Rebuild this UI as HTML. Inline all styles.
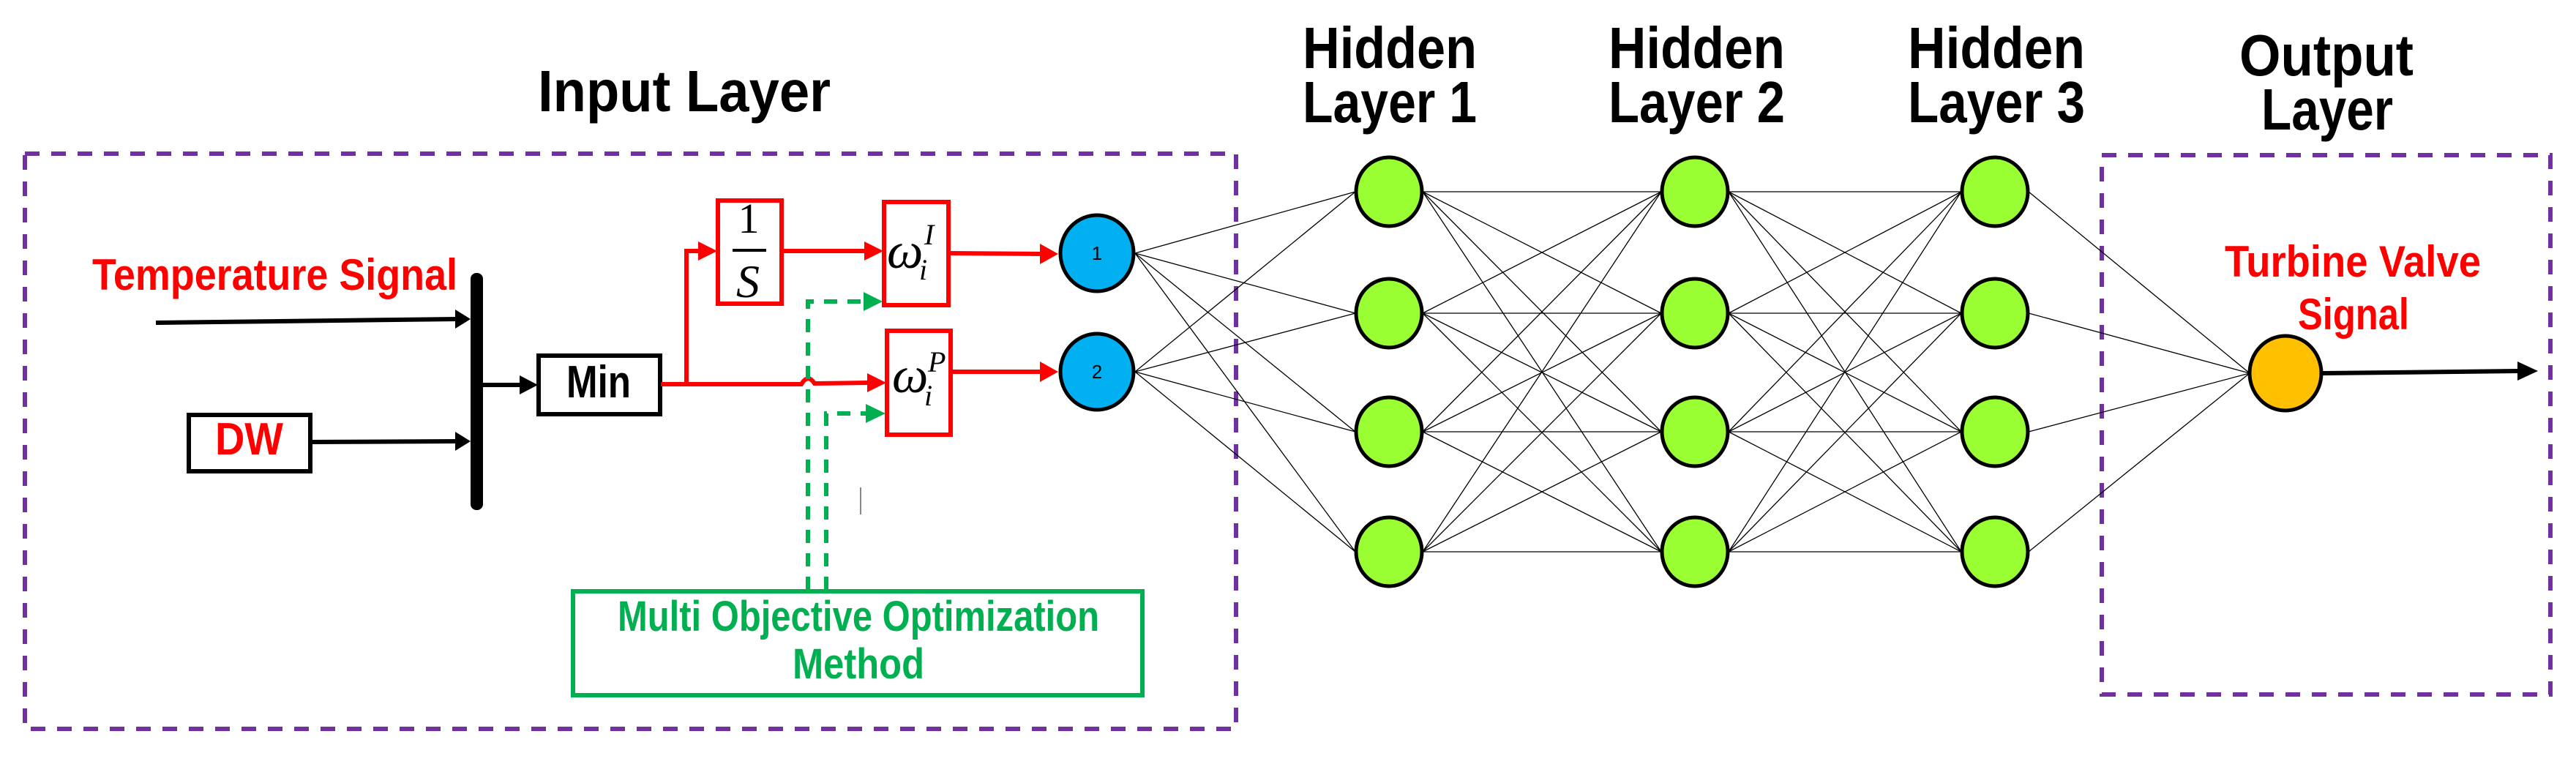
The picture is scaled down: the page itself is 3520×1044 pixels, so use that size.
<!DOCTYPE html>
<html><head><meta charset="utf-8"><style>html,body{margin:0;padding:0;background:#fff}svg{display:block}</style></head>
<body>
<svg width="3520" height="1044" viewBox="0 0 3520 1044" xmlns="http://www.w3.org/2000/svg">
<g font-family="Liberation Sans, sans-serif" font-weight="bold">
<text x="735" y="152" font-size="80" textLength="400" lengthAdjust="spacingAndGlyphs">Input  Layer</text>
<text x="1780" y="93" font-size="80" textLength="238" lengthAdjust="spacingAndGlyphs">Hidden</text>
<text x="1780" y="167" font-size="80" textLength="238" lengthAdjust="spacingAndGlyphs">Layer 1</text>
<text x="2198" y="93" font-size="80" textLength="241" lengthAdjust="spacingAndGlyphs">Hidden</text>
<text x="2198" y="167" font-size="80" textLength="241" lengthAdjust="spacingAndGlyphs">Layer 2</text>
<text x="2607" y="93" font-size="80" textLength="242" lengthAdjust="spacingAndGlyphs">Hidden</text>
<text x="2607" y="167" font-size="80" textLength="242" lengthAdjust="spacingAndGlyphs">Layer 3</text>
<text x="3060" y="103" font-size="80" textLength="238" lengthAdjust="spacingAndGlyphs">Output</text>
<text x="3090" y="177" font-size="80" textLength="180" lengthAdjust="spacingAndGlyphs">Layer</text>
<text x="126" y="396" font-size="60" fill="#f00" textLength="499" lengthAdjust="spacingAndGlyphs">Temperature Signal</text>
<text x="294" y="621" font-size="62" fill="#f00" textLength="93" lengthAdjust="spacingAndGlyphs">DW</text>
<text x="774" y="543" font-size="62" textLength="88" lengthAdjust="spacingAndGlyphs">Min</text>
<text x="3040" y="378" font-size="60" fill="#f00" textLength="350" lengthAdjust="spacingAndGlyphs">Turbine Valve</text>
<text x="3140" y="450" font-size="60" fill="#f00" textLength="152" lengthAdjust="spacingAndGlyphs">Signal</text>
<text x="844" y="862" font-size="58" fill="#00b050" textLength="658" lengthAdjust="spacingAndGlyphs">Multi Objective Optimization</text>
<text x="1083" y="927" font-size="58" fill="#00b050" textLength="180" lengthAdjust="spacingAndGlyphs">Method</text>
</g>
<rect x="34" y="210" width="1655" height="786" fill="none" stroke="#7030a0" stroke-width="6" stroke-dasharray="20,16"/>
<rect x="2872" y="212" width="613" height="737" fill="none" stroke="#7030a0" stroke-width="6" stroke-dasharray="20,16"/>
<g stroke="#000" stroke-width="1.3" fill="none">
<path d="M1551,346L1852,262M1551,346L1852,428M1551,346L1852,590M1551,346L1852,754
M1551,508L1852,262M1551,508L1852,428M1551,508L1852,590M1551,508L1852,754
M1944,262L2270,262M1944,262L2270,428M1944,262L2270,590M1944,262L2270,754
M1944,428L2270,262M1944,428L2270,428M1944,428L2270,590M1944,428L2270,754
M1944,590L2270,262M1944,590L2270,428M1944,590L2270,590M1944,590L2270,754
M1944,754L2270,262M1944,754L2270,428M1944,754L2270,590M1944,754L2270,754
M2362,262L2680,262M2362,262L2680,428M2362,262L2680,590M2362,262L2680,754
M2362,428L2680,262M2362,428L2680,428M2362,428L2680,590M2362,428L2680,754
M2362,590L2680,262M2362,590L2680,428M2362,590L2680,590M2362,590L2680,754
M2362,754L2680,262M2362,754L2680,428M2362,754L2680,590M2362,754L2680,754
M2772,262L3074,510M2772,428L3074,510M2772,590L3074,510M2772,754L3074,510"/>
</g>
<g stroke="#000" stroke-width="5">
<ellipse cx="1499" cy="346" rx="50" ry="52" fill="#00b0f0"/>
<ellipse cx="1499" cy="508" rx="50" ry="52" fill="#00b0f0"/>
<g fill="#99ff33">
<ellipse cx="1898" cy="262" rx="45" ry="47"/><ellipse cx="1898" cy="428" rx="45" ry="47"/><ellipse cx="1898" cy="590" rx="45" ry="47"/><ellipse cx="1898" cy="754" rx="45" ry="47"/>
<ellipse cx="2316" cy="262" rx="45" ry="47"/><ellipse cx="2316" cy="428" rx="45" ry="47"/><ellipse cx="2316" cy="590" rx="45" ry="47"/><ellipse cx="2316" cy="754" rx="45" ry="47"/>
<ellipse cx="2726" cy="262" rx="45" ry="47"/><ellipse cx="2726" cy="428" rx="45" ry="47"/><ellipse cx="2726" cy="590" rx="45" ry="47"/><ellipse cx="2726" cy="754" rx="45" ry="47"/>
</g>
<ellipse cx="3123" cy="510" rx="49" ry="51" fill="#ffc000"/>
</g>
<g font-family="Liberation Sans, sans-serif" font-size="26" text-anchor="middle"><text x="1499" y="355">1</text><text x="1499" y="517">2</text></g>
<path d="M3173,510 L3445,507" stroke="#000" stroke-width="6"/>
<path d="M3440,494 L3468,507 L3440,520z" fill="#000"/>
<rect x="643" y="373" width="17" height="324" rx="8" fill="#000"/>
<path d="M213,441 L625,436 M424,604 L625,603 M660,526 L712,526" stroke="#000" stroke-width="6"/>
<path d="M622,423 L643,436 L622,449z M622,590 L643,603 L622,616z M710,513 L735,526 L710,539z" fill="#000"/>
<rect x="258" y="567" width="166" height="77" fill="none" stroke="#000" stroke-width="6"/>
<rect x="736" y="486" width="166" height="80" fill="none" stroke="#000" stroke-width="6"/>
<g fill="none" stroke="#f00" stroke-width="6">
<rect x="981" y="274" width="87" height="141"/>
<rect x="1208" y="276" width="88" height="141"/>
<rect x="1212" y="452" width="87" height="142"/>
<path d="M903,525 L1095,525 Q1104,510 1113,524 L1185,523"/>
<path d="M938,525 L938,343 L958,343"/>
<path d="M1068,343 L1183,343"/>
<path d="M1296,346 L1425,347"/>
<path d="M1299,508 L1425,508"/>
</g>
<g fill="#f00">
<path d="M954,330 L980,343 L954,356z"/>
<path d="M1181,330 L1207,343 L1181,356z"/>
<path d="M1185,510 L1211,523 L1185,536z"/>
<path d="M1421,333 L1446,347 L1421,361z"/>
<path d="M1421,494 L1446,508 L1421,522z"/>
</g>
<g font-family="Liberation Serif, serif" fill="#000">
<text x="1023" y="318" font-size="58" text-anchor="middle">1</text>
<path d="M1001,342 L1047,342" stroke="#000" stroke-width="4"/>
<text x="1022" y="406" font-size="64" font-style="italic" text-anchor="middle">S</text>
<text x="1212" y="366" font-size="70" font-style="italic">ω</text>
<text x="1263" y="334" font-size="40" font-style="italic">I</text>
<text x="1256" y="382" font-size="40" font-style="italic">i</text>
<text x="1219" y="536" font-size="70" font-style="italic">ω</text>
<text x="1268" y="508" font-size="40" font-style="italic">P</text>
<text x="1263" y="554" font-size="40" font-style="italic">i</text>
</g>
<g fill="none" stroke="#00b050" stroke-width="6" stroke-dasharray="18,14">
<path d="M1104,806 L1104,412 L1182,412"/>
<path d="M1129,806 L1129,565 L1185,565"/>
</g>
<g fill="#00b050">
<path d="M1180,399 L1206,412 L1180,425z"/>
<path d="M1183,552 L1210,565 L1183,578z"/>
</g>
<rect x="783" y="808" width="778" height="142" fill="none" stroke="#00b050" stroke-width="6"/>
<path d="M1176,666 L1176,703" stroke="#888" stroke-width="2"/>
</svg>
</body></html>
